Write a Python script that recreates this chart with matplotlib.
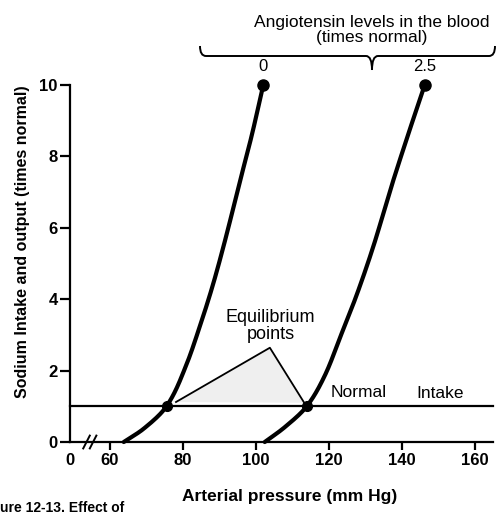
import matplotlib
matplotlib.use("Agg")
import matplotlib.pyplot as plt
import numpy as np
from matplotlib.patches import Polygon, PathPatch
from matplotlib.path import Path

plt.rcParams['font.family'] = ['Liberation Sans', 'DejaVu Sans']

# Data (arterial pressure mmHg, sodium output times normal)
ang0_y = [0.0, 0.36, 1.0, 2.1, 3.2, 4.4, 5.75, 7.2, 8.6, 10.0]
ang0_x = [63.9, 69.2, 75.6, 80.8, 84.6, 88.3, 91.9, 95.45, 98.97, 102.1]
ang25_y = [0.0, 0.4, 1.0, 1.83, 3.0, 4.1, 5.5, 7.1, 8.5, 10.0]
ang25_x = [102.5, 107.8, 114.0, 118.8, 123.4, 127.6, 132.3, 137.0, 141.4, 146.3]
normal_intake = 1.0
eq_x = [75.6, 114.0]
eq_y = [1.0, 1.0]
curve_labels = ["0", "2.5"]
xticks = [49.2, 60, 80, 100, 120, 140, 160]
xticklabels = ["0", "60", "80", "100", "120", "140", "160"]
yticks = [0, 2, 4, 6, 8, 10]


def pchip(x, y, xn):
    x = np.asarray(x, float); y = np.asarray(y, float)
    h = np.diff(x); d = np.diff(y) / h
    m = np.zeros_like(x)
    for k in range(1, len(x) - 1):
        if d[k - 1] * d[k] > 0:
            w1 = 2 * h[k] + h[k - 1]; w2 = h[k] + 2 * h[k - 1]
            m[k] = (w1 + w2) / (w1 / d[k - 1] + w2 / d[k])
    m[0] = d[0]; m[-1] = d[-1]
    idx = np.clip(np.searchsorted(x, xn) - 1, 0, len(h) - 1)
    t = (xn - x[idx]) / h[idx]
    h00 = 2 * t**3 - 3 * t**2 + 1; h10 = t**3 - 2 * t**2 + t
    h01 = -2 * t**3 + 3 * t**2; h11 = t**3 - t**2
    return h00 * y[idx] + h10 * h[idx] * m[idx] + h01 * y[idx + 1] + h11 * h[idx] * m[idx + 1]


fig = plt.figure(figsize=(4.97, 5.16), dpi=100)
ax = fig.add_axes([0.141, 0.1434, 0.851, 0.692])
ax.set_xlim(49.2, 165)
ax.set_ylim(0, 10)

for xs, ys, lab in [(ang0_x, ang0_y, curve_labels[0]), (ang25_x, ang25_y, curve_labels[1])]:
    yy = np.linspace(ys[0], ys[-1], 400)
    xx = pchip(ys, xs, yy)
    ax.plot(xx, yy, color='black', lw=3.0, solid_capstyle='round', clip_on=False)
    ax.plot(xs[-1], ys[-1], 'o', color='black', ms=8, clip_on=False)
    ax.text(xs[-1], ys[-1] + 0.3, lab, ha='center', va='bottom', fontsize=12)

# normal intake line
ax.plot([49.2, 165], [normal_intake, normal_intake], color='black', lw=1.6, clip_on=False)
ax.plot(eq_x, eq_y, 'o', color='black', ms=7, zorder=5)

# equilibrium annotation
apex = (103.9, 2.64)
tri = Polygon([[78.2, 1.12], apex, [113.3, 1.1]], closed=True, facecolor='#efefef',
              edgecolor='none', zorder=0)
ax.add_patch(tri)
ax.plot([78.2, apex[0], 113.3], [1.12, apex[1], 1.1], color='black', lw=1.3)
ax.text(104.1, 3.25, "Equilibrium\npoints", ha='center', va='center', fontsize=13, linespacing=1.0)

ax.text(128.3, 1.38, "Normal", ha='center', va='center', fontsize=12.5)
ax.text(150.4, 1.36, "Intake", ha='center', va='center', fontsize=12.5)

# axes styling
for s in ['top', 'right']:
    ax.spines[s].set_visible(False)
ax.spines['left'].set_linewidth(1.6)
ax.spines['bottom'].set_linewidth(1.6)
ax.set_xticks(xticks)
ax.set_xticklabels(xticklabels)
ax.set_yticks(yticks)
ax.tick_params(axis='both', direction='out', length=7, width=1.6, labelsize=12, pad=2)
ax.tick_params(axis='x', length=6)
for lbl in ax.get_xticklabels() + ax.get_yticklabels():
    lbl.set_fontweight('bold')
ax.get_xticklines()[0].set_visible(False)

# axis break marks
for dx in [-0.9, 0.9]:
    ax.plot([54.6 + dx - 0.9, 54.6 + dx + 0.9], [-0.18, 0.18], color='black', lw=1.4, clip_on=False)

ax.set_xlabel("Arterial pressure (mm Hg)", fontsize=12.5, fontweight='bold')
ax.xaxis.set_label_coords(0.52, -0.154)
ax.xaxis.label.set_va('center')
ax.set_ylabel("Sodium Intake and output (times normal)", fontsize=11.5, fontweight='bold')
ax.yaxis.set_label_coords(-0.113, 0.56)
ax.yaxis.label.set_va('center')

# brace and header
bx0, bx1, bxm = 200/497, 495/497, 372/497
by = 1 - 46/516
h = 10/516
tip = 24/516
codes = [Path.MOVETO, Path.CURVE3, Path.CURVE3, Path.LINETO, Path.CURVE3, Path.CURVE3]
verts = [(bx0, by), (bx0, by - h), (bx0 + 0.012, by - h), (bxm - 0.012, by - h), (bxm, by - h), (bxm, by - tip)]
fig.add_artist(PathPatch(Path(verts, codes), transform=fig.transFigure, fill=False, lw=1.4, color='black'))
verts2 = [(bx1, by), (bx1, by - h), (bx1 - 0.012, by - h), (bxm + 0.012, by - h), (bxm, by - h), (bxm, by - tip)]
fig.add_artist(PathPatch(Path(verts2, codes), transform=fig.transFigure, fill=False, lw=1.4, color='black'))
fig.text(bxm, 1 - 30/516, "Angiotensin levels in the blood\n(times normal)", ha='center', va='center',
         fontsize=12.5, linespacing=0.95)

fig.text(0.0, 1/516, "ure 12-13. Effect of", ha='left', va='bottom', fontsize=10, fontweight='bold')

fig.savefig("out.png", dpi=100)
